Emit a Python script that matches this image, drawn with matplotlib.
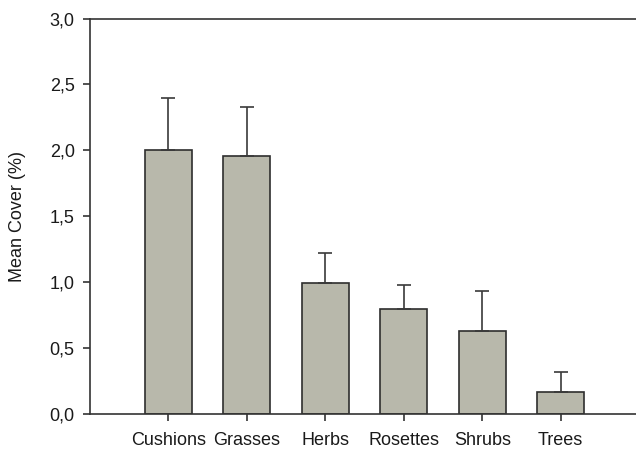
import matplotlib
matplotlib.use("Agg")
import matplotlib.pyplot as plt
from matplotlib.ticker import FuncFormatter

categories = ["Cushions", "Grasses", "Herbs", "Rosettes", "Shrubs", "Trees"]
means = [2.00, 1.96, 0.99, 0.80, 0.63, 0.17]
errors = [0.40, 0.37, 0.23, 0.18, 0.30, 0.15]
yticks = [0.0, 0.5, 1.0, 1.5, 2.0, 2.5, 3.0]

plt.rcParams['font.family'] = ['Liberation Sans', 'DejaVu Sans']

fig = plt.figure(figsize=(6.36, 4.5), dpi=100)
ax = fig.add_axes([90/636, 36/450, (636-90)/636, (414-18.5)/450])

x = list(range(len(categories)))
ax.bar(x, means, width=0.6, color='#b8b8ab', edgecolor='#2e2e2e', linewidth=1.2,
       yerr=[[0]*len(errors), errors], error_kw=dict(ecolor='#3a3a3a', elinewidth=1.2, capsize=5, capthick=1.2),
       zorder=2)

ax.set_xlim(-1.0, 5.96)
ax.set_ylim(0, 3.0)
ax.set_xticks(x)
ax.set_xticklabels(categories)
ax.set_yticks(yticks)
ax.yaxis.set_major_formatter(FuncFormatter(lambda v, p: f"{v:.1f}".replace('.', ',')))
ax.set_ylabel("Mean Cover (%)", fontsize=13, color='#1a1a1a')
ax.yaxis.set_label_coords(-(90 - 18) / 546, 0.5)
ax.yaxis.label.set_verticalalignment('center')

for s in ['left', 'bottom', 'top']:
    ax.spines[s].set_color('#333333')
    ax.spines[s].set_linewidth(1.2)
ax.spines['right'].set_visible(False)
ax.tick_params(axis='both', direction='out', length=5, width=1.2, color='#333333',
               labelsize=13, labelcolor='#1a1a1a')
ax.tick_params(axis='x', pad=8)
ax.tick_params(axis='y', pad=6)

fig.savefig("out.png", dpi=100)
